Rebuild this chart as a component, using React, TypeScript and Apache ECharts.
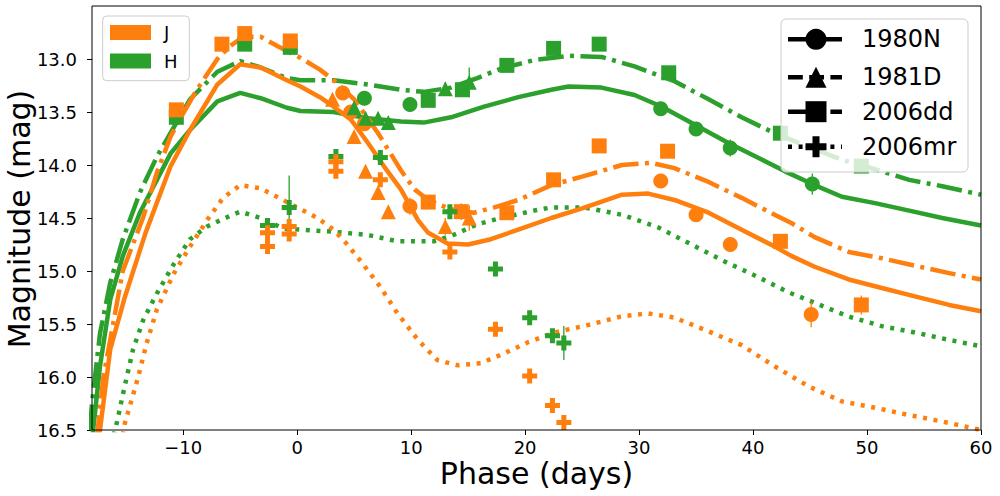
import React, { useEffect, useRef } from 'react';
import * as echarts from 'echarts';

const ORANGE = '#ff7f0e';
const GREEN = '#2ca02c';
const FONT = 'DejaVu Sans';

const xTicks = [-10, 0, 10, 20, 30, 40, 50, 60];
const yTicks = [13.0, 13.5, 14.0, 14.5, 15.0, 15.5, 16.0, 16.5];

// Template curves [phase, magnitude]
const jTemplate1980N = [[-17.6,16.7],[-17.3,16.5],[-16.4,15.74],[-15.1,15.24],[-13.3,14.64],[-11.1,14.01],[-9.4,13.67],[-7.0,13.24],[-5.0,13.05],[-3.2,13.08],[-0.9,13.2],[0.3,13.26],[2.0,13.36],[3.2,13.45],[4.7,13.57],[6.2,13.79],[7.6,14.01],[9.1,14.23],[10.6,14.52],[11.5,14.64],[13.2,14.74],[15.0,14.75],[17.0,14.7],[19.4,14.61],[22.3,14.5],[25.0,14.41],[28.5,14.28],[30.8,14.27],[33.1,14.33],[36.1,14.45],[39.0,14.61],[41.9,14.77],[43.4,14.86],[45.4,14.96],[48.4,15.08],[51.3,15.16],[54.2,15.24],[57.2,15.32],[60,15.38]];
const hTemplate1980N = [[-18.1,16.7],[-17.9,16.5],[-17.3,15.9],[-16.4,15.27],[-15.3,14.86],[-13.8,14.45],[-11.1,13.89],[-9.4,13.67],[-7.0,13.4],[-5.0,13.32],[-3.2,13.37],[-0.9,13.46],[0.3,13.49],[3.2,13.5],[6.2,13.56],[9.1,13.59],[11.1,13.6],[13.5,13.55],[16.4,13.45],[19.4,13.36],[22.3,13.29],[23.8,13.26],[26.7,13.27],[29.6,13.34],[32.0,13.45],[34.9,13.62],[37.8,13.79],[40.8,13.95],[42.8,14.06],[45.2,14.18],[47.8,14.3],[50.7,14.36],[53.7,14.43],[56.6,14.5],[60,14.57]];
const jTemplate2006dd = [[-17.6,16.6],[-17.0,16.0],[-15.3,15.0],[-13.5,14.49],[-12.3,14.07],[-11.1,13.73],[-10.3,13.57],[-8.8,13.29],[-7.0,13.0],[-5.9,12.88],[-4.7,12.79],[-3.2,12.79],[-1.7,12.88],[0.3,12.99],[2.0,13.1],[3.2,13.2],[5.0,13.38],[7.1,13.7],[9.1,14.05],[10.3,14.23],[11.5,14.33],[13.5,14.42],[15.5,14.45],[17.3,14.4],[19.4,14.33],[22.3,14.19],[25.0,14.11],[28.5,14.0],[31.1,13.98],[33.1,14.03],[36.1,14.16],[39.0,14.31],[41.9,14.47],[43.4,14.55],[45.4,14.68],[48.4,14.82],[51.3,14.88],[54.2,14.95],[57.2,15.02],[60,15.08]];
const hTemplate2006dd = [[-18.2,16.5],[-18.0,16.25],[-17.3,15.59],[-16.4,15.11],[-15.3,14.7],[-13.8,14.26],[-12.3,13.92],[-10.8,13.64],[-9.4,13.38],[-7.0,13.12],[-5.0,13.02],[-3.2,13.08],[-0.9,13.18],[0.3,13.2],[3.2,13.2],[6.2,13.24],[9.1,13.29],[11.1,13.31],[13.5,13.27],[15.8,13.18],[17.9,13.09],[20.8,13.01],[23.8,12.97],[26.7,12.98],[29.6,13.07],[31.1,13.13],[33.1,13.21],[36.1,13.38],[39.0,13.55],[41.9,13.7],[44.9,13.83],[47.8,13.95],[50.7,14.04],[53.7,14.14],[56.6,14.2],[60,14.28]];
const jTemplate2006mr = [[-15.3,16.55],[-15.1,16.43],[-14.0,16.02],[-13.2,15.68],[-12.3,15.36],[-10.8,15.02],[-9.4,14.77],[-7.9,14.52],[-6.5,14.31],[-5.0,14.19],[-3.2,14.22],[-1.6,14.31],[0.0,14.4],[1.8,14.5],[3.2,14.61],[4.4,14.75],[5.6,14.91],[7.3,15.15],[8.8,15.4],[10.6,15.65],[12.3,15.84],[14.1,15.89],[16.1,15.87],[17.9,15.79],[20.3,15.67],[22.6,15.58],[25.5,15.51],[28.4,15.43],[30.8,15.4],[33.1,15.44],[36.1,15.57],[39.0,15.7],[41.9,15.9],[44.9,16.09],[47.8,16.23],[50.7,16.29],[53.7,16.36],[56.6,16.42],[60,16.5]];
const hTemplate2006mr = [[-16.1,16.55],[-15.8,16.42],[-15.2,16.12],[-14.4,15.74],[-13.5,15.46],[-12.3,15.21],[-10.8,14.93],[-9.4,14.7],[-7.9,14.58],[-5.9,14.48],[-5.0,14.44],[-3.2,14.5],[-1.2,14.6],[0.3,14.61],[3.2,14.63],[6.2,14.66],[8.8,14.72],[12.0,14.72],[13.5,14.67],[15.8,14.56],[17.9,14.5],[20.8,14.43],[22.3,14.4],[25.2,14.4],[28.5,14.47],[31.7,14.59],[34.6,14.75],[37.5,14.91],[40.5,15.06],[43.1,15.2],[45.4,15.3],[48.4,15.43],[51.3,15.52],[54.2,15.58],[57.2,15.65],[60,15.71]];

// Observations [phase, magnitude, error]
const jObs1980N = [[4.0,13.32,0.06],[4.7,13.5,0.06],[5.9,13.61,0.06],[9.9,14.39,0.08],[31.9,14.15,0.05],[35.0,14.47,0.05],[38.0,14.75,0.06],[45.1,15.41,0.12]];
const hObs1980N = [[5.9,13.37,0.06],[9.9,13.43,0.06],[31.9,13.47,0.05],[35.0,13.66,0.05],[38.0,13.84,0.08],[45.2,14.18,0.1]];
const jObs1981D = [[3.1,13.38,0.05],[5.0,13.73,0.05],[6.0,14.06,0.05],[7.1,14.26,0.05],[8.0,14.44,0.05],[13.0,14.58,0.08],[15.1,14.5,0.12]];
const hObs1981D = [[5.0,13.46,0.05],[6.0,13.56,0.05],[7.1,13.56,0.05],[8.0,13.6,0.05],[13.0,13.28,0.06],[15.1,13.22,0.14]];
const jObs2006dd = [[-10.6,13.48,0.05],[-6.6,12.86,0.04],[-4.6,12.76,0.04],[-0.6,12.83,0.04],[11.5,14.35,0.05],[14.4,14.44,0.08],[18.4,14.45,0.05],[22.5,14.14,0.05],[26.5,13.82,0.04],[32.5,13.87,0.05],[42.4,14.72,0.06],[49.5,15.32,0.09]];
const hObs2006dd = [[-10.6,13.55,0.05],[-4.6,12.86,0.04],[-0.6,12.89,0.04],[11.5,13.39,0.05],[14.5,13.29,0.06],[18.4,13.06,0.05],[22.5,12.9,0.05],[26.5,12.86,0.04],[32.6,13.13,0.05],[42.4,13.7,0.06],[49.5,14.01,0.06]];
const jObs2006mr = [[-2.6,14.64,0.04],[-2.6,14.77,0.04],[-0.7,14.58,0.04],[-0.7,14.65,0.05],[3.4,13.97,0.04],[3.4,14.06,0.04],[7.3,14.14,0.04],[13.4,14.82,0.04],[17.4,15.55,0.04],[20.4,15.99,0.04],[22.4,16.27,0.04],[23.4,16.43,0.04]];
const hObs2006mr = [[-2.6,14.57,0.04],[-0.7,14.4,0.3],[3.4,13.92,0.04],[7.3,13.93,0.04],[13.4,14.44,0.04],[17.4,14.98,0.04],[20.4,15.44,0.06],[22.4,15.61,0.05],[23.4,15.68,0.16]];

const bandNames = ['J', 'H'];
const snNames = ['1980N', '1981D', '2006dd', '2006mr'];

const PLUS = 'path://M1,0L2,0L2,1L3,1L3,2L2,2L2,3L1,3L1,2L0,2L0,1L1,1Z';
const DASHDOT = [25.6, 6.4, 4, 6.4];
const DOTTED = [4, 6.6];
const DASHED = [14.8, 6.4];
const LW = 4.5;

function lineSeries(data: number[][], color: string, type: any) {
  return {
    type: 'line',
    data,
    symbol: 'none',
    showSymbol: false,
    smooth: false,
    clip: true,
    lineStyle: { color, width: LW, type, cap: 'butt', join: 'round' },
    z: 2,
    silent: true,
  };
}

function errSeries(data: number[][], color: string) {
  return {
    type: 'custom',
    data,
    clip: true,
    encode: { x: 0, y: 1 },
    z: 3,
    silent: true,
    renderItem: (params: any, api: any) => {
      const x = api.value(0);
      const y = api.value(1);
      const e = api.value(2);
      const p1 = api.coord([x, y - e]);
      const p2 = api.coord([x, y + e]);
      return {
        type: 'line',
        shape: { x1: p1[0], y1: p1[1], x2: p2[0], y2: p2[1] },
        style: { stroke: color, lineWidth: 1.3 },
      };
    },
  };
}

function markSeries(data: number[][], color: string, symbol: string, size: number) {
  return {
    type: 'scatter',
    data: data.map((d) => [d[0], d[1]]),
    symbol,
    symbolSize: size,
    itemStyle: { color, opacity: 1 },
    z: 4,
    silent: true,
  };
}

function plusPoints(cx: number, cy: number, h: number, t: number) {
  return [
    [cx - t, cy - h], [cx + t, cy - h], [cx + t, cy - t], [cx + h, cy - t], [cx + h, cy + t], [cx + t, cy + t],
    [cx + t, cy + h], [cx - t, cy + h], [cx - t, cy + t], [cx - h, cy + t], [cx - h, cy - t], [cx - t, cy - t],
  ];
}

export default function App() {
  const ref = useRef<HTMLDivElement>(null);

  useEffect(() => {
    if (!ref.current) return;
    const chart = echarts.init(ref.current, undefined, { renderer: 'svg' });

    const rowsY = [39.3, 77.3, 111.7, 146.7];
    const lx1 = 788, lx2 = 842, mx = 816;
    const legendItems: any[] = [
      {
        type: 'rect',
        shape: { x: 781, y: 19, width: 187, height: 153, r: 5 },
        style: { fill: 'rgba(255,255,255,0.8)', stroke: '#cccccc', lineWidth: 1 },
        z: 100,
      },
      { type: 'line', shape: { x1: lx1, y1: rowsY[0], x2: lx2, y2: rowsY[0] }, style: { stroke: '#000', lineWidth: LW }, z: 101 },
      { type: 'circle', shape: { cx: mx, cy: rowsY[0], r: 10.5 }, style: { fill: '#000' }, z: 102 },
      { type: 'line', shape: { x1: lx1, y1: rowsY[1], x2: lx2, y2: rowsY[1] }, style: { stroke: '#000', lineWidth: LW, lineDash: DASHED, lineCap: 'butt' }, z: 101 },
      { type: 'polygon', shape: { points: [[mx, rowsY[1] - 10.5], [mx - 10.5, rowsY[1] + 10.5], [mx + 10.5, rowsY[1] + 10.5]] }, style: { fill: '#000' }, z: 102 },
      { type: 'line', shape: { x1: lx1, y1: rowsY[2], x2: lx2, y2: rowsY[2] }, style: { stroke: '#000', lineWidth: LW, lineDash: DASHDOT, lineCap: 'butt' }, z: 101 },
      { type: 'rect', shape: { x: mx - 10.5, y: rowsY[2] - 10.5, width: 21, height: 21 }, style: { fill: '#000' }, z: 102 },
      { type: 'line', shape: { x1: lx1, y1: rowsY[3], x2: lx2, y2: rowsY[3] }, style: { stroke: '#000', lineWidth: LW, lineDash: DOTTED, lineCap: 'butt' }, z: 101 },
      { type: 'polygon', shape: { points: plusPoints(mx, rowsY[3], 10.5, 3.5) }, style: { fill: '#000' }, z: 102 },
      ...snNames.map((n, i) => ({
        type: 'text',
        x: 862,
        y: rowsY[i],
        style: { text: n, fill: '#000', font: `24px "${FONT}"`, textAlign: 'left', textVerticalAlign: 'middle' },
        z: 102,
      })),
      // band legend
      {
        type: 'rect',
        shape: { x: 102.7, y: 16, width: 86.6, height: 64.7, r: 4 },
        style: { fill: 'rgba(255,255,255,0.8)', stroke: '#cccccc', lineWidth: 1 },
        z: 100,
      },
      { type: 'rect', shape: { x: 110, y: 25, width: 41, height: 15 }, style: { fill: ORANGE }, z: 101 },
      { type: 'rect', shape: { x: 110, y: 53.5, width: 41, height: 15 }, style: { fill: GREEN }, z: 101 },
      ...bandNames.map((n, i) => ({
        type: 'text',
        x: 164,
        y: i === 0 ? 32.5 : 61,
        style: { text: n, fill: '#000', font: `18px "${FONT}"`, textAlign: 'left', textVerticalAlign: 'middle' },
        z: 102,
      })),
      // axis titles
      {
        type: 'text',
        x: 536.5,
        y: 473,
        style: { text: 'Phase (days)', fill: '#000', font: `30px "${FONT}"`, textAlign: 'center', textVerticalAlign: 'middle' },
        z: 50,
      },
      {
        type: 'text',
        x: 19,
        y: 219,
        rotation: Math.PI / 2,
        style: { text: 'Magnitude (mag)', fill: '#000', font: `30px "${FONT}"`, textAlign: 'center', textVerticalAlign: 'middle' },
        z: 50,
      },
    ];

    const option: any = {
      animation: false,
      backgroundColor: '#ffffff',
      grid: { left: 92, right: 19, top: 6, bottom: 66, show: true, borderColor: '#000', borderWidth: 1, backgroundColor: 'transparent', z: 10 },
      xAxis: {
        type: 'value',
        min: -18,
        max: 60,
        position: 'bottom',
        splitLine: { show: false },
        axisLine: { show: false, onZero: false },
        axisTick: { show: true, length: 5, lineStyle: { color: '#000', width: 1 }, customValues: xTicks },
        axisLabel: {
          show: true,
          margin: 8,
          fontSize: 18,
          color: '#000',
          fontFamily: FONT,
          customValues: xTicks,
          formatter: (v: number) => (v < 0 ? '\u2212' + Math.abs(v) : String(v)),
        },
      },
      yAxis: {
        type: 'value',
        inverse: true,
        min: 12.5,
        max: 16.5,
        position: 'left',
        splitLine: { show: false },
        axisLine: { show: false, onZero: false },
        axisTick: { show: true, length: 5, lineStyle: { color: '#000', width: 1 }, customValues: yTicks },
        axisLabel: {
          show: true,
          margin: 15,
          fontSize: 18,
          color: '#000',
          fontFamily: FONT,
          customValues: yTicks,
          formatter: (v: number) => v.toFixed(1),
        },
      },
      graphic: { elements: legendItems },
      series: [
        lineSeries(hTemplate1980N, GREEN, 'solid'),
        lineSeries(hTemplate2006dd, GREEN, DASHDOT),
        lineSeries(hTemplate2006mr, GREEN, DOTTED),
        lineSeries(jTemplate1980N, ORANGE, 'solid'),
        lineSeries(jTemplate2006dd, ORANGE, DASHDOT),
        lineSeries(jTemplate2006mr, ORANGE, DOTTED),
        errSeries(hObs1980N, GREEN),
        markSeries(hObs1980N, GREEN, 'circle', 15),
        errSeries(jObs1980N, ORANGE),
        markSeries(jObs1980N, ORANGE, 'circle', 15),
        errSeries(hObs1981D, GREEN),
        markSeries(hObs1981D, GREEN, 'triangle', 15),
        errSeries(jObs1981D, ORANGE),
        markSeries(jObs1981D, ORANGE, 'triangle', 15),
        errSeries(hObs2006dd, GREEN),
        markSeries(hObs2006dd, GREEN, 'rect', 15),
        errSeries(jObs2006dd, ORANGE),
        markSeries(jObs2006dd, ORANGE, 'rect', 15),
        errSeries(hObs2006mr, GREEN),
        markSeries(hObs2006mr, GREEN, PLUS, 15),
        errSeries(jObs2006mr, ORANGE),
        markSeries(jObs2006mr, ORANGE, PLUS, 15),
      ],
    };

    chart.setOption(option);
    return () => {
      chart.dispose();
    };
  }, []);

  return (
    <div
      ref={ref}
      style={{ position: 'absolute', left: 0, top: 0, width: 1000, height: 496, background: '#fff' }}
    />
  );
}
